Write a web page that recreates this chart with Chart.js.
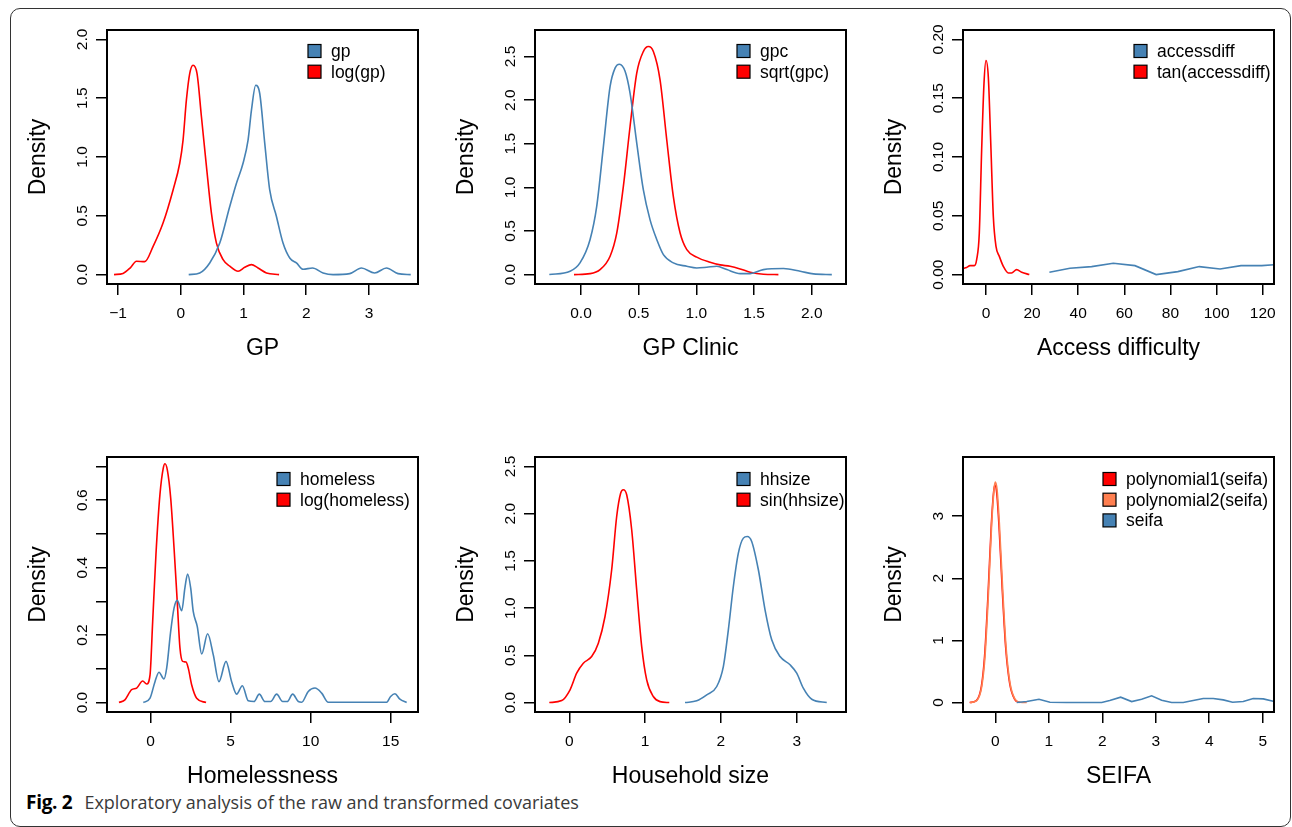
<!DOCTYPE html>
<html>
<head>
<meta charset="utf-8">
<script src="https://cdn.jsdelivr.net/npm/chart.js@4.4.1/dist/chart.umd.min.js"></script>
<style>
  html, body { margin: 0; padding: 0; background: #fff; }
  body { width: 1292px; height: 827px; position: relative; overflow: hidden; }
  .frame { position: absolute; left: 10px; top: 8px; width: 1281px; height: 819px;
           border: 1px solid #333; border-radius: 10px; box-sizing: border-box; }
  .panel { position: absolute; }
  .caption { position: absolute; left: 26px; top: 792px; font-family: "Open Sans", sans-serif;
             font-size: 18px; line-height: 20px; color: #3a3a3a; white-space: nowrap; }
  .caption b { color: #000; font-weight: 700; font-size: 19px; letter-spacing: -0.3px; margin-right: 12px; }
</style>
</head>
<body>
<div class="frame"></div>
<div class="caption"><b>Fig. 2</b>Exploratory analysis of the raw and transformed covariates</div>
<script>
const FONT = '"Liberation Sans", Arial, Helvetica, sans-serif';
const BLUE = '#4682B4';
const RED = '#FF0000';
const CORAL = '#FF7F50';

// GP
const gpX = [0.127, 0.303, 0.462, 0.622, 0.781, 0.888, 0.993, 1.073, 1.127, 1.195, 1.259, 1.339, 1.418, 1.525, 1.63, 1.737, 1.844, 1.95, 2.1, 2.268, 2.427, 2.693, 2.88, 3.09, 3.278, 3.463, 3.665];
const gpY = [0, 0.014, 0.099, 0.268, 0.579, 0.777, 0.947, 1.144, 1.398, 1.61, 1.54, 1.116, 0.72, 0.494, 0.268, 0.141, 0.099, 0.045, 0.056, 0.014, 0, 0.008, 0.056, 0.014, 0.056, 0.008, 0];
const logGpX = [-1.063, -0.92, -0.8, -0.706, -0.574, -0.44, -0.282, -0.122, -0.016, 0.037, 0.09, 0.143, 0.196, 0.26, 0.33, 0.41, 0.489, 0.569, 0.675, 0.781, 0.914, 1.02, 1.127, 1.232, 1.366, 1.567];
const logGpY = [0, 0.01, 0.06, 0.113, 0.11, 0.24, 0.438, 0.72, 0.947, 1.144, 1.483, 1.709, 1.78, 1.709, 1.342, 0.918, 0.523, 0.268, 0.127, 0.071, 0.028, 0.062, 0.085, 0.056, 0.014, 0];
const gpXTicks = [-1, 0, 1, 2, 3];
const gpXLabels = ['\u22121', '0', '1', '2', '3'];
const gpYTicks = [0, 0.5, 1, 1.5, 2];
const gpYLabels = ['0.0', '0.5', '1.0', '1.5', '2.0'];

// GP Clinic
const gpcX = [-0.275, -0.095, -0.009, 0.078, 0.136, 0.194, 0.252, 0.295, 0.333, 0.382, 0.425, 0.483, 0.54, 0.598, 0.657, 0.714, 0.8, 0.917, 1.003, 1.09, 1.177, 1.264, 1.379, 1.466, 1.581, 1.755, 1.9, 2.015, 2.174];
const gpcY = [0, 0.038, 0.134, 0.4, 0.782, 1.47, 2.157, 2.367, 2.412, 2.33, 2.08, 1.508, 0.973, 0.63, 0.4, 0.229, 0.134, 0.095, 0.076, 0.084, 0.095, 0.057, 0.011, 0.011, 0.057, 0.069, 0.038, 0.008, 0];
const sqrtGpcX = [-0.061, 0.078, 0.165, 0.252, 0.31, 0.367, 0.425, 0.483, 0.54, 0.584, 0.627, 0.685, 0.743, 0.8, 0.859, 0.917, 1.003, 1.119, 1.206, 1.292, 1.379, 1.466, 1.581, 1.711];
const sqrtGpcY = [0, 0.011, 0.057, 0.21, 0.477, 1.011, 1.698, 2.31, 2.557, 2.614, 2.557, 2.233, 1.546, 0.897, 0.477, 0.286, 0.2, 0.141, 0.111, 0.095, 0.065, 0.027, 0.004, 0];
const gpcXTicks = [0, 0.5, 1, 1.5, 2];
const gpcXLabels = ['0.0', '0.5', '1.0', '1.5', '2.0'];
const gpcYTicks = [0, 0.5, 1, 1.5, 2, 2.5];
const gpcYLabels = ['0.0', '0.5', '1.0', '1.5', '2.0', '2.5'];

// Access difficulty
const accX = [27.5, 36.4, 45.8, 55.2, 64.6, 73.8, 83.2, 92.5, 101.5, 110.6, 119.6, 129];
const accY = [0.002, 0.0054, 0.0068, 0.0096, 0.0076, 0, 0.0025, 0.0068, 0.0048, 0.0076, 0.0076, 0.009];
const tanAccX = [-12, -10.1, -8.4, -6.94, -5.06, -4.05, -2.9, -1.88, -0.87, 0, 1.01, 2.17, 3.18, 4.34, 5.78, 7.52, 9.69, 11.1, 13.3, 15.5, 18.8];
const tanAccY = [0.0042, 0.0052, 0.006, 0.0076, 0.0076, 0.0127, 0.0353, 0.106, 0.1624, 0.182, 0.168, 0.106, 0.0494, 0.024, 0.0155, 0.007, 0.0014, 0.0014, 0.0042, 0.002, 0];
const accXTicks = [0, 20, 40, 60, 80, 100, 120];
const accXLabels = ['0', '20', '40', '60', '80', '100', '120'];
const accYTicks = [0, 0.05, 0.1, 0.15, 0.2];
const accYLabels = ['0.00', '0.05', '0.10', '0.15', '0.20'];

// Homelessness
const homeX = [-0.46, -0.04, 0.27, 0.52, 0.83, 1.0, 1.25, 1.46, 1.66, 1.94, 2.14, 2.31, 2.5, 2.66, 2.91, 3.19, 3.56, 3.91, 4.27, 4.71, 5.06, 5.375, 5.73, 6.1, 6.46, 6.79, 7.14, 7.5, 7.875, 8.25, 8.54, 8.875, 9.23, 9.44, 9.85, 10.27, 10.69, 11.1, 14.75, 15.0, 15.27, 15.58, 16.0];
const homeY = [0, 0.013, 0.062, 0.09, 0.07, 0.102, 0.211, 0.28, 0.303, 0.272, 0.34, 0.381, 0.34, 0.27, 0.226, 0.144, 0.204, 0.142, 0.062, 0.122, 0.062, 0.025, 0.05, 0.005, 0.003, 0.025, 0.003, 0.003, 0.025, 0.003, 0.003, 0.025, 0.003, 0.001, 0.033, 0.043, 0.028, 0.001, 0.001, 0.018, 0.026, 0.01, 0];
const logHomeX = [-1.98, -1.61, -1.19, -0.875, -0.5, -0.25, -0.04, 0.125, 0.33, 0.58, 0.79, 0.894, 1.04, 1.25, 1.46, 1.66, 1.83, 2.0, 2.21, 2.35, 2.56, 2.875, 3.46];
const logHomeY = [0, 0.008, 0.038, 0.043, 0.064, 0.055, 0.082, 0.24, 0.439, 0.617, 0.696, 0.708, 0.69, 0.607, 0.459, 0.3, 0.162, 0.122, 0.12, 0.102, 0.053, 0.013, 0];
const homeXTicks = [0, 5, 10, 15];
const homeXLabels = ['0', '5', '10', '15'];
const homeYTicks = [0, 0.1, 0.2, 0.3, 0.4, 0.5, 0.6, 0.7];
const homeYLabels = ['0.0', '', '0.2', '', '0.4', '', '0.6', ''];

// Household size
const hhX = [1.526, 1.681, 1.813, 1.945, 2.032, 2.098, 2.164, 2.23, 2.296, 2.348, 2.406, 2.494, 2.582, 2.67, 2.78, 2.912, 3.0, 3.087, 3.198, 3.396];
const hhY = [0, 0.018, 0.081, 0.17, 0.381, 0.77, 1.229, 1.582, 1.741, 1.759, 1.706, 1.406, 0.982, 0.664, 0.487, 0.4, 0.311, 0.152, 0.035, 0];
const sinHhX = [-0.264, -0.1, 0.01, 0.097, 0.185, 0.295, 0.383, 0.471, 0.559, 0.625, 0.678, 0.712, 0.757, 0.823, 0.889, 0.955, 1.021, 1.108, 1.197, 1.319];
const sinHhY = [0, 0.021, 0.135, 0.311, 0.417, 0.487, 0.629, 0.911, 1.406, 1.97, 2.218, 2.253, 2.2, 1.83, 1.194, 0.593, 0.24, 0.064, 0.01, 0];
const hhXTicks = [0, 1, 2, 3];
const hhXLabels = ['0', '1', '2', '3'];
const hhYTicks = [0, 0.5, 1, 1.5, 2, 2.5];
const hhYLabels = ['0.0', '0.5', '1.0', '1.5', '2.0', '2.5'];

// SEIFA
const poly1X = [-0.48, -0.355, -0.26, -0.2, -0.137, -0.073, -0.03, -0.006, 0.026, 0.069, 0.132, 0.194, 0.269, 0.362, 0.456];
const poly1Y = [0, 0.032, 0.262, 0.75, 1.72, 2.88, 3.4, 3.5, 3.38, 2.85, 1.79, 0.89, 0.31, 0.053, 0];
const poly2X = [-0.473, -0.348, -0.254, -0.193, -0.131, -0.067, -0.024, 0, 0.032, 0.075, 0.138, 0.2, 0.275, 0.368, 0.462, 0.587];
const poly2Y = [0, 0.032, 0.258, 0.742, 1.71, 2.894, 3.43, 3.548, 3.43, 2.894, 1.818, 0.903, 0.312, 0.054, 0.005, 0];
const seifaX = [0.4, 0.587, 0.817, 1.022, 1.33, 1.99, 2.14, 2.344, 2.55, 2.736, 2.923, 3.11, 3.297, 3.514, 3.7, 3.888, 4.075, 4.262, 4.437, 4.636, 4.822, 5.01, 5.196, 5.4];
const seifaY = [0, 0.016, 0.054, 0.005, 0, 0, 0.032, 0.086, 0.016, 0.054, 0.108, 0.038, 0, 0, 0.032, 0.065, 0.065, 0.043, 0.005, 0.016, 0.065, 0.059, 0.022, 0];
const seifaXTicks = [0, 1, 2, 3, 4, 5];
const seifaXLabels = ['0', '1', '2', '3', '4', '5'];
const seifaYTicks = [0, 1, 2, 3];
const seifaYLabels = ['0', '1', '2', '3'];

// room around each plot box
const Y_AXIS_W = 82, PAD_TOP = 20, PAD_RIGHT = 30, X_AXIS_H = 78;

const pts = (xs, ys) => xs.map((x, i) => ({ x, y: ys[i] }));

function curve(label, color, xs, ys, smooth, order) {
    return {
        label,
        data: pts(xs, ys),
        borderColor: color,
        backgroundColor: color,
        borderWidth: 1.6,
        pointRadius: 0,
        fill: false,
        tension: 0,
        cubicInterpolationMode: smooth ? 'monotone' : 'default',
        order: order || 0
    };
}

// plot box drawn over the curves, like R's box()
const boxPlugin = {
    id: 'plotBox',
    afterDraw(chart) {
        const a = chart.chartArea, ctx = chart.ctx;
        ctx.save();
        ctx.strokeStyle = '#000';
        ctx.lineWidth = 2;
        ctx.strokeRect(a.left, a.top, a.right - a.left, a.bottom - a.top);
        ctx.restore();
    }
};

// y tick labels rotated to run along the axis
const yLabelPlugin = {
    id: 'rotatedY',
    afterDraw(chart) {
        const s = chart.scales.y, a = chart.chartArea, ctx = chart.ctx;
        ctx.save();
        ctx.fillStyle = '#000';
        ctx.font = '15.5px ' + FONT;
        ctx.textAlign = 'center';
        ctx.textBaseline = 'alphabetic';
        s.ticks.forEach(t => {
            if (!t.label) return;
            ctx.save();
            ctx.translate(a.left - 20, s.getPixelForValue(t.value));
            ctx.rotate(-Math.PI / 2);
            ctx.fillText(t.label, 0, 0);
            ctx.restore();
        });
        ctx.restore();
    }
};

// filled-square legend inside the plot, top right
const legendPlugin = {
    id: 'boxLegend',
    afterDraw(chart, args, opts) {
        const a = chart.chartArea, ctx = chart.ctx;
        ctx.save();
        ctx.font = '17.5px ' + FONT;
        ctx.textBaseline = 'middle';
        ctx.textAlign = 'left';
        chart.data.datasets.forEach((ds, i) => {
            const x = a.left + opts.dx, y = a.top + opts.dy + i * 20.7;
            ctx.fillStyle = ds.borderColor;
            ctx.fillRect(x, y - 6.5, 13, 13);
            ctx.strokeStyle = '#000';
            ctx.lineWidth = 1.2;
            ctx.strokeRect(x, y - 6.5, 13, 13);
            ctx.fillStyle = '#000';
            ctx.fillText(ds.label, x + 23, y + 1);
        });
        ctx.restore();
    }
};

function makePanel(box, datasets, xr, yr, xTicks, xLabels, yTicks, yLabels, xTitle, legend) {
    const w = box.r - box.l + Y_AXIS_W + PAD_RIGHT;
    const h = box.b - box.t + PAD_TOP + X_AXIS_H;
    const div = document.createElement('div');
    div.className = 'panel';
    div.style.left = (box.l - Y_AXIS_W) + 'px';
    div.style.top = (box.t - PAD_TOP) + 'px';
    const canvas = document.createElement('canvas');
    canvas.width = w;
    canvas.height = h;
    canvas.style.width = w + 'px';
    canvas.style.height = h + 'px';
    div.appendChild(canvas);
    document.body.appendChild(div);

    const tickGrid = { display: true, drawOnChartArea: false, drawTicks: true, tickLength: 11, color: '#000', lineWidth: 1.5 };

    new Chart(canvas, {
        type: 'line',
        data: { datasets },
        options: {
            responsive: false,
            animation: false,
            devicePixelRatio: 1,
            layout: { padding: { top: PAD_TOP, right: PAD_RIGHT, left: 0, bottom: 0 } },
            plugins: {
                legend: { display: false },
                tooltip: { enabled: false },
                boxLegend: legend
            },
            scales: {
                x: {
                    type: 'linear',
                    min: xr[0], max: xr[1],
                    afterBuildTicks: s => { s.ticks = xTicks.map(v => ({ value: v })); },
                    afterFit: s => { s.height = X_AXIS_H; },
                    grid: tickGrid,
                    border: { display: false },
                    ticks: {
                        color: '#000', padding: 9, maxRotation: 0, autoSkip: false,
                        font: { family: FONT, size: 15.5 },
                        callback: (v, i) => xLabels[i]
                    },
                    title: { display: true, text: xTitle, color: '#000', padding: 0, font: { family: FONT, size: 23 } }
                },
                y: {
                    type: 'linear',
                    min: yr[0], max: yr[1],
                    afterBuildTicks: s => { s.ticks = yTicks.map(v => ({ value: v })); },
                    afterFit: s => { s.width = Y_AXIS_W; },
                    grid: tickGrid,
                    border: { display: false },
                    ticks: { display: false, autoSkip: false, callback: (v, i) => yLabels[i] },
                    title: { display: true, text: 'Density', color: '#000', padding: 0, font: { family: FONT, size: 23 } }
                }
            }
        },
        plugins: [boxPlugin, yLabelPlugin, legendPlugin]
    });
}

makePanel({ l: 107, t: 30, r: 418, b: 284 },
    [curve('gp', BLUE, gpX, gpY, true), curve('log(gp)', RED, logGpX, logGpY, true)],
    [-1.175, 3.781], [-0.08, 2.08], gpXTicks, gpXLabels, gpYTicks, gpYLabels, 'GP', { dx: 201, dy: 21 });

makePanel({ l: 535, t: 30, r: 846, b: 284 },
    [curve('gpc', BLUE, gpcX, gpcY, true), curve('sqrt(gpc)', RED, sqrtGpcX, sqrtGpcY, true)],
    [-0.399, 2.297], [-0.108, 2.804], gpcXTicks, gpcXLabels, gpcYTicks, gpcYLabels, 'GP Clinic', { dx: 202, dy: 21 });

makePanel({ l: 963, t: 30, r: 1274, b: 284 },
    [curve('accessdiff', BLUE, accX, accY, false), curve('tan(accessdiff)', RED, tanAccX, tanAccY, true)],
    [-9.97, 124.9], [-0.008, 0.208], accXTicks, accXLabels, accYTicks, accYLabels, 'Access difficulty', { dx: 171, dy: 21 });

makePanel({ l: 107, t: 457, r: 418, b: 712 },
    [curve('homeless', BLUE, homeX, homeY, true), curve('log(homeless)', RED, logHomeX, logHomeY, true)],
    [-2.73, 16.71], [-0.028, 0.728], homeXTicks, homeXLabels, homeYTicks, homeYLabels, 'Homelessness', { dx: 170, dy: 22 });

makePanel({ l: 535, t: 457, r: 846, b: 712 },
    [curve('hhsize', BLUE, hhX, hhY, true), curve('sin(hhsize)', RED, sinHhX, sinHhY, true)],
    [-0.4525, 3.65], [-0.1, 2.6], hhXTicks, hhXLabels, hhYTicks, hhYLabels, 'Household size', { dx: 202, dy: 22 });

makePanel({ l: 963, t: 457, r: 1274, b: 712 },
    [curve('polynomial1(seifa)', RED, poly1X, poly1Y, true, 2),
     curve('polynomial2(seifa)', CORAL, poly2X, poly2Y, true, 1),
     curve('seifa', BLUE, seifaX, seifaY, false, 0)],
    [-0.604, 5.211], [-0.152, 3.952], seifaXTicks, seifaXLabels, seifaYTicks, seifaYLabels, 'SEIFA', { dx: 140, dy: 22 });
</script>
</body>
</html>
